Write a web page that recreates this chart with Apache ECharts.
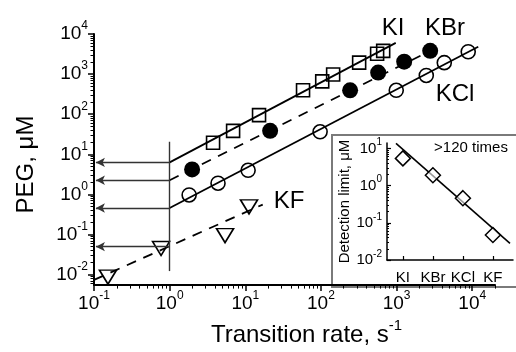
<!DOCTYPE html>
<html>
<head>
<meta charset="utf-8">
<script src="https://cdn.jsdelivr.net/npm/echarts@6/dist/echarts.min.js"></script>
<style>
html, body { margin: 0; padding: 0; background: #fff; }
#main { width: 516px; height: 352px; }
</style>
</head>
<body>
<div id="main"></div>
<script>
// main panel: PEG concentration vs transition rate
var kiRate = [3.75, 6.9, 15.2, 58, 104, 145, 320, 553, 665];
var kiPeg = [19.5, 38.5, 95, 395, 660, 980, 1930, 3210, 3800];
var kbrRate = [1.98, 21.3, 243, 571, 1260, 2780];
var kbrPeg = [4.2, 38.5, 395, 1095, 2040, 3800];
var kclRate = [1.81, 4.36, 10.9, 97.5, 990, 2470, 4270, 8850];
var kclPeg = [0.97, 1.91, 4.0, 36.5, 395, 925, 1930, 3610];
var kfRate = [0.153, 0.77, 5.4, 11.2];
var kfPeg = [0.0087, 0.045, 0.094, 0.49];

// fitted lines, [rate, peg] at both ends
var kiFit = [[1, 6.3], [975, 6000]];
var kbrFit = [[1, 2.26], [3780, 5040]];
var kclFit = [[1, 0.46], [12000, 4800]];
var kfFit = [[0.1, 0.0074], [17, 0.56]];

// detection limits taken at 1 s-1 (arrows to the axis)
var limitPeg = [6.3, 2.26, 0.46, 0.05];
var arrowTo = 0.106;
var guideRate = 1;
var guidePeg = [20.6, 0.0123];

// inset: detection limit per salt
var insetCats = ['KI', 'KBr', 'KCl', 'KF'];
var insetLimit = [5.4, 1.9, 0.46, 0.047];
var insetFit = [[0.77, 13.6], [4.57, 0.028]];

var xTicks = [0.1, 1, 10, 100, 1000, 10000];
var yTicks = [0.01, 0.1, 1, 10, 100, 1000, 10000];
var insetYTicks = [0.01, 0.1, 1, 10];
var insetXTicks = [1, 2, 3, 4];

var FONT = '"Liberation Sans", Arial, sans-serif';

function minorTicks(lo, hi) {
    var out = [];
    for (var e = -4; e <= 5; e++) {
        for (var m = 2; m <= 9; m++) {
            var v = m * Math.pow(10, e);
            if (v >= lo * 0.999 && v <= hi * 1.001) out.push(v);
        }
    }
    return out;
}

function powLabel(v) {
    return '10{s|' + Math.round(Math.log10(v)) + '}';
}

function zip(a, b) {
    var out = [];
    for (var i = 0; i < a.length; i++) out.push([a[i], b[i]]);
    return out;
}

var myChart = echarts.init(document.getElementById('main'));

var hollow = { color: 'transparent', borderColor: '#000', borderWidth: 1.6, opacity: 1 };

// second axes on the same grids only carry the log-spaced minor ticks
function minorAxis(grid, lo, hi, pos, inside, len) {
    return {
        type: 'log', gridIndex: grid, min: lo, max: hi, position: pos,
        axisLine: { show: true, onZero: false, lineStyle: { color: 'rgba(0,0,0,0)' } },
        axisTick: { show: true, customValues: minorTicks(lo, hi), inside: inside, length: len, lineStyle: { color: '#000', width: 1 } },
        axisLabel: { show: false },
        splitLine: { show: false }
    };
}

var option = {
    backgroundColor: '#fff',
    animation: false,
    grid: [
        { left: 94, top: 34, width: 401, height: 254 },
        { left: 387, top: 143, width: 126, height: 117 }
    ],
    xAxis: [
        {
            type: 'log', gridIndex: 0, min: 0.1, max: 20000, position: 'bottom',
            axisLine: { onZero: false, lineStyle: { color: '#000', width: 2 } },
            axisTick: { customValues: xTicks, length: 6, lineStyle: { color: '#000', width: 1.5 } },
            axisLabel: {
                customValues: xTicks, formatter: powLabel, color: '#000',
                fontSize: 19, fontFamily: FONT, margin: 5,
                rich: { s: { fontSize: 12, fontFamily: FONT, padding: [0, 0, 16, 0] } }
            },
            splitLine: { show: false },
            name: 'Transition rate, s{s|-1}', nameLocation: 'middle', nameGap: 31,
            nameTextStyle: {
                color: '#000', fontSize: 24, fontFamily: FONT, padding: [0, 0, 0, 24],
                rich: { s: { fontSize: 15, fontFamily: FONT, padding: [0, 0, 18, 0] } }
            }
        },
        minorAxis(0, 0.1, 20000, 'bottom', false, 3.5),
        {
            type: 'value', gridIndex: 1, min: 0.47, max: 4.67, position: 'bottom',
            axisLine: { onZero: false, lineStyle: { color: '#000', width: 1.5 } },
            axisTick: { customValues: insetXTicks, inside: true, length: 4, lineStyle: { color: '#000', width: 1.2 } },
            axisLabel: {
                customValues: insetXTicks, color: '#000', fontSize: 15, fontFamily: FONT, margin: 10,
                formatter: function (v) { return insetCats[Math.round(v) - 1]; }
            },
            splitLine: { show: false }
        }
    ],
    yAxis: [
        {
            type: 'log', gridIndex: 0, min: 0.0055, max: 10000, position: 'left',
            axisLine: { onZero: false, lineStyle: { color: '#000', width: 2 } },
            axisTick: { customValues: yTicks, length: 6, lineStyle: { color: '#000', width: 1.5 } },
            axisLabel: {
                customValues: yTicks, formatter: powLabel, color: '#000',
                fontSize: 19, fontFamily: FONT, margin: 6,
                rich: { s: { fontSize: 12, fontFamily: FONT, padding: [0, 0, 16, 0] } }
            },
            splitLine: { show: false },
            name: 'PEG, \u03bcM', nameLocation: 'middle', nameGap: 56,
            nameTextStyle: { color: '#000', fontSize: 24, fontFamily: FONT, padding: [0, 10, 0, 0] }
        },
        minorAxis(0, 0.0055, 10000, 'left', false, 3.5),
        {
            type: 'log', gridIndex: 1, min: 0.01, max: 14, position: 'left',
            axisLine: { onZero: false, lineStyle: { color: '#000', width: 1.5 } },
            axisTick: { customValues: insetYTicks, inside: true, length: 4, lineStyle: { color: '#000', width: 1.2 } },
            axisLabel: {
                customValues: insetYTicks, formatter: powLabel, color: '#000',
                fontSize: 15, fontFamily: FONT, margin: 5,
                rich: { s: { fontSize: 10, fontFamily: FONT, padding: [0, 0, 12, 0] } }
            },
            splitLine: { show: false },
            name: 'Detection limit, \u03bcM', nameLocation: 'middle', nameGap: 34,
            nameTextStyle: { color: '#000', fontSize: 15, fontFamily: FONT }
        },
        minorAxis(1, 0.01, 14, 'left', true, 2)
    ],
    graphic: [
        {
            type: 'rect', z: -1,
            shape: { x: 332, y: 135, width: 200, height: 152 },
            style: { fill: '#fff', stroke: '#7a7a7a', lineWidth: 2 }
        },
        { type: 'text', style: { text: 'KI', x: 393, y: 28, align: 'center', verticalAlign: 'middle', fontSize: 24, fontFamily: FONT, fill: '#000' } },
        { type: 'text', style: { text: 'KBr', x: 445, y: 28, align: 'center', verticalAlign: 'middle', fontSize: 24, fontFamily: FONT, fill: '#000' } },
        { type: 'text', style: { text: 'KCl', x: 455, y: 94, align: 'center', verticalAlign: 'middle', fontSize: 24, fontFamily: FONT, fill: '#000' } },
        { type: 'text', style: { text: 'KF', x: 289, y: 201, align: 'center', verticalAlign: 'middle', fontSize: 24, fontFamily: FONT, fill: '#000' } },
        { type: 'text', style: { text: '>120 times', x: 471, y: 148, align: 'center', verticalAlign: 'middle', fontSize: 15, fontFamily: FONT, fill: '#000' } }
    ],
    series: [
        {
            name: 'KI fit', type: 'line', xAxisIndex: 1, yAxisIndex: 1, data: kiFit,
            symbol: 'none', silent: true, lineStyle: { color: '#000', width: 1.8 },
            markLine: {
                silent: true, symbol: ['none', 'arrow'], symbolSize: [7, 9],
                label: { show: false }, emphasis: { disabled: true },
                lineStyle: { color: '#333', width: 1.4, type: 'solid' },
                data: limitPeg.map(function (p) {
                    return [{ coord: [guideRate, p] }, { coord: [arrowTo, p] }];
                }).concat([[
                    { coord: [guideRate, guidePeg[0]], symbol: 'none' },
                    { coord: [guideRate, guidePeg[1]], symbol: 'none' }
                ]])
            }
        },
        {
            name: 'KBr fit', type: 'line', xAxisIndex: 0, yAxisIndex: 0, data: kbrFit,
            symbol: 'none', silent: true, lineStyle: { color: '#000', width: 1.8, type: [10, 8] }
        },
        {
            name: 'KCl fit', type: 'line', xAxisIndex: 0, yAxisIndex: 0, data: kclFit,
            symbol: 'none', silent: true, lineStyle: { color: '#000', width: 1.8 }
        },
        {
            name: 'KF fit', type: 'line', xAxisIndex: 0, yAxisIndex: 0, data: kfFit,
            symbol: 'none', silent: true, lineStyle: { color: '#000', width: 1.8, type: [10, 8] }
        },
        {
            name: 'KI', type: 'scatter', xAxisIndex: 0, yAxisIndex: 0, data: zip(kiRate, kiPeg),
            symbol: 'rect', symbolSize: 13, itemStyle: hollow, silent: true
        },
        {
            name: 'KBr', type: 'scatter', xAxisIndex: 0, yAxisIndex: 0, data: zip(kbrRate, kbrPeg),
            symbol: 'circle', symbolSize: 16, itemStyle: { color: '#000', opacity: 1 }, silent: true
        },
        {
            name: 'KCl', type: 'scatter', xAxisIndex: 0, yAxisIndex: 0, data: zip(kclRate, kclPeg),
            symbol: 'circle', symbolSize: 14, itemStyle: hollow, silent: true
        },
        {
            name: 'KF', type: 'scatter', xAxisIndex: 0, yAxisIndex: 0, data: zip(kfRate, kfPeg),
            symbol: 'triangle', symbolRotate: 180, symbolSize: [17, 14], itemStyle: hollow, silent: true
        },
        {
            name: 'inset fit', type: 'line', xAxisIndex: 2, yAxisIndex: 3, data: insetFit,
            symbol: 'none', silent: true, z: 5, lineStyle: { color: '#000', width: 1.6 }
        },
        {
            name: 'Detection limit', type: 'scatter', xAxisIndex: 2, yAxisIndex: 2,
            data: insetLimit.map(function (v, i) { return [insetXTicks[i], v]; }),
            symbol: 'diamond', symbolSize: 15, z: 6, silent: true,
            itemStyle: { color: 'rgba(255,255,255,0.6)', borderColor: '#000', borderWidth: 1.5, opacity: 1 }
        }
    ]
};

myChart.setOption(option);
</script>
</body>
</html>
